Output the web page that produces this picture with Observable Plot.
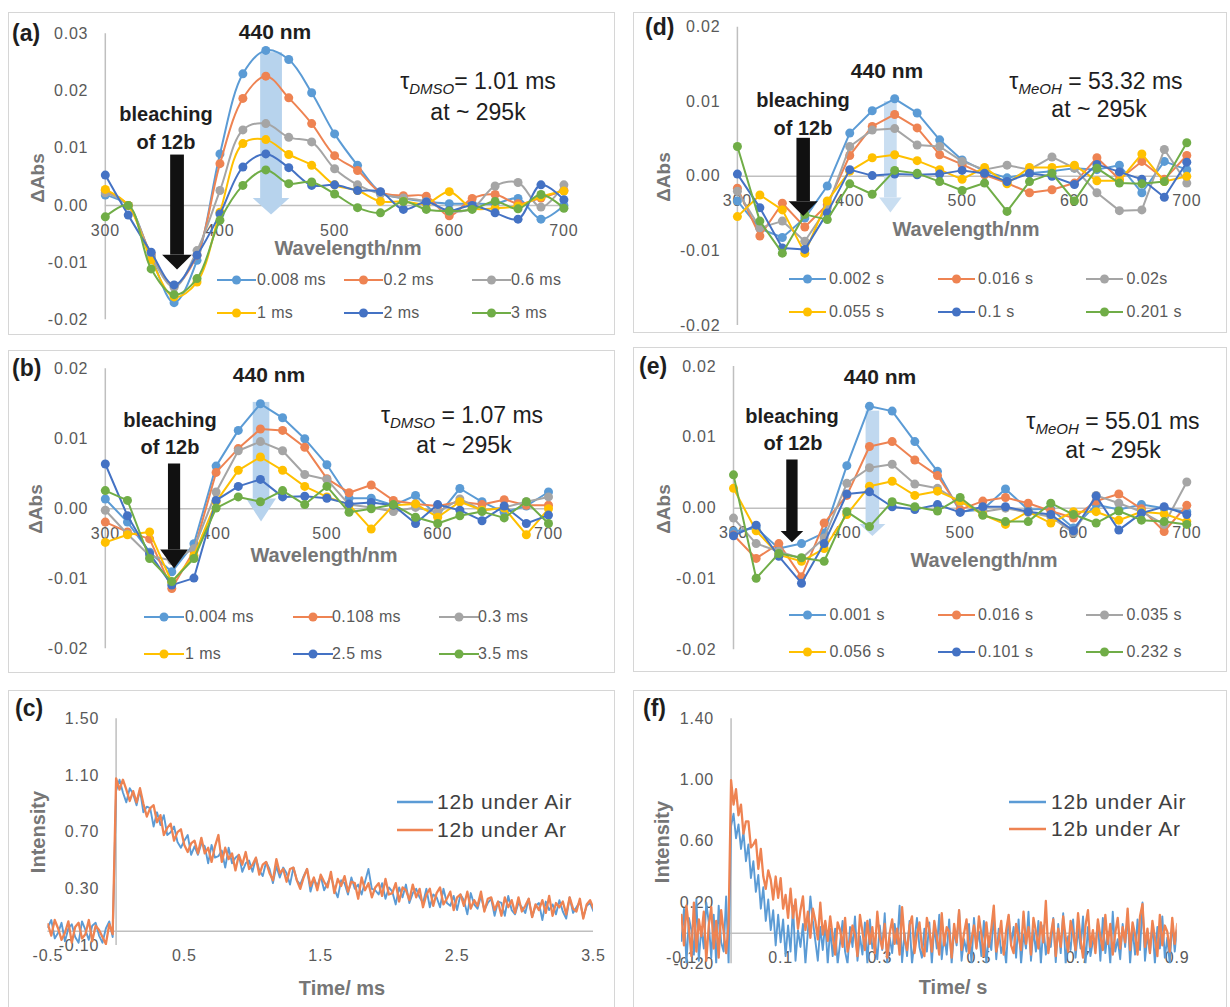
<!DOCTYPE html>
<html><head><meta charset="utf-8">
<script src="https://cdn.jsdelivr.net/npm/d3@7"></script>
<script src="https://cdn.jsdelivr.net/npm/@observablehq/plot@0.6"></script>
<style>
body{margin:0;background:#fff;font-family:"Liberation Sans",Arial,sans-serif;}
#root{position:relative;width:1230px;height:1007px;overflow:hidden;background:#fff}
.panel{position:absolute;border:1.5px solid #d6d6d6;box-sizing:border-box}
.lbl{position:absolute;white-space:nowrap;line-height:1}
.lbl sub{font-size:15px;font-style:italic;vertical-align:-5px;letter-spacing:0}
</style></head>
<body><div id="root"></div>
<script>
// ---------- data ----------
const wl = [300,320,340,360,380,400,420,440,460,480,500,520,540,560,580,600,620,640,660,680,700];
const colors = ["#5B9BD5","#EE8352","#A5A5A5","#FFC000","#4472C4","#70AD47"];
const specXTicks = [300,400,500,600,700];

const aLabels = ["0.008 ms","0.2 ms","0.6 ms","1 ms","2 ms","3 ms"];
const aValues = [
  [0.0018,0.0000,-0.0090,-0.0170,-0.0096,0.0090,0.0230,0.0271,0.0255,0.0197,0.0125,0.0070,0.0023,0.0012,0.0007,0.0003,0.0003,0.0003,0.0012,-0.0024,0.0000],
  [0.0026,0.0000,-0.0085,-0.0140,-0.0087,0.0073,0.0187,0.0226,0.0188,0.0143,0.0087,0.0061,0.0023,0.0017,0.0016,-0.0018,0.0012,0.0019,0.0003,0.0013,0.0026],
  [0.0022,0.0000,-0.0088,-0.0143,-0.0079,0.0026,0.0132,0.0143,0.0119,0.0111,0.0064,0.0036,0.0020,0.0013,0.0007,-0.0010,-0.0005,0.0034,0.0040,-0.0003,0.0036],
  [0.0028,0.0000,-0.0095,-0.0160,-0.0134,-0.0012,0.0108,0.0115,0.0089,0.0070,0.0036,0.0026,0.0007,0.0007,0.0003,0.0024,-0.0005,-0.0005,-0.0001,0.0015,0.0025],
  [0.0053,-0.0017,-0.0082,-0.0139,-0.0087,-0.0015,0.0067,0.0090,0.0066,0.0035,0.0036,0.0026,0.0024,-0.0007,0.0006,-0.0009,0.0000,-0.0013,-0.0024,0.0036,0.0010],
  [-0.0020,0.0000,-0.0111,-0.0156,-0.0128,-0.0026,0.0035,0.0062,0.0038,0.0041,0.0020,-0.0004,-0.0013,0.0007,-0.0007,-0.0010,-0.0007,0.0007,-0.0006,0.0019,-0.0005]
];
const aYTicks = [0.03,0.02,0.01,0,-0.01,-0.02];

const bLabels = ["0.004 ms","0.108 ms","0.3 ms","1 ms","2.5 ms","3.5 ms"];
const bValues = [
  [0.0014,-0.0019,-0.0062,-0.0090,-0.0050,0.0061,0.0112,0.0150,0.0130,0.0100,0.0063,0.0015,0.0015,0.0005,0.0019,-0.0010,0.0029,0.0010,-0.0005,0.0004,0.0024],
  [-0.0019,-0.0033,-0.0043,-0.0114,-0.0060,0.0052,0.0086,0.0114,0.0112,0.0088,0.0043,0.0023,0.0034,0.0012,0.0007,0.0004,0.0010,0.0006,0.0013,0.0005,0.0005],
  [-0.0002,-0.0036,-0.0067,-0.0074,-0.0057,0.0024,0.0083,0.0096,0.0083,0.0049,0.0042,0.0006,0.0002,-0.0004,0.0002,-0.0005,0.0014,-0.0002,0.0002,0.0010,0.0017],
  [-0.0048,-0.0037,-0.0033,-0.0105,-0.0067,0.0010,0.0055,0.0074,0.0055,0.0032,0.0017,0.0006,-0.0029,0.0005,0.0007,-0.0012,0.0010,-0.0002,0.0001,-0.0037,0.0000],
  [0.0064,-0.0010,-0.0064,-0.0109,-0.0099,0.0012,0.0032,0.0042,0.0017,0.0018,0.0015,0.0007,0.0009,0.0005,-0.0021,0.0006,-0.0002,-0.0017,0.0004,-0.0021,-0.0009],
  [0.0026,0.0012,-0.0071,-0.0104,-0.0071,0.0001,0.0017,0.0010,0.0026,0.0006,0.0032,-0.0005,0.0000,0.0006,-0.0012,-0.0021,-0.0010,-0.0004,-0.0013,0.0010,-0.0021]
];
const bdeYTicks = [0.02,0.01,0,-0.01,-0.02];

const dLabels = ["0.002 s","0.016 s","0.02s","0.055 s","0.1 s","0.201 s"];
const dValues = [
  [-0.0033,-0.0070,-0.0082,-0.0056,-0.0013,0.0058,0.0088,0.0104,0.0085,0.0049,0.0022,0.0007,-0.0002,0.0004,0.0007,0.0011,0.0009,0.0015,-0.0022,0.0020,0.0009],
  [-0.0016,-0.0080,-0.0036,-0.0068,-0.0038,0.0028,0.0067,0.0083,0.0065,0.0029,0.0016,0.0002,-0.0009,-0.0022,-0.0018,-0.0009,0.0025,-0.0004,0.0020,-0.0004,0.0028],
  [-0.0020,-0.0069,-0.0060,-0.0087,-0.0042,0.0040,0.0062,0.0064,0.0042,0.0040,0.0020,0.0009,0.0015,0.0009,0.0026,0.0011,-0.0022,-0.0046,-0.0045,0.0036,-0.0009],
  [-0.0054,-0.0025,-0.0045,-0.0103,-0.0033,0.0007,0.0025,0.0029,0.0021,0.0009,-0.0004,0.0012,-0.0010,0.0012,0.0012,0.0015,-0.0006,-0.0006,0.0030,-0.0007,0.0000],
  [0.0003,-0.0042,-0.0096,-0.0098,-0.0049,0.0009,0.0001,0.0003,0.0002,0.0003,0.0008,0.0004,-0.0007,0.0004,0.0000,-0.0011,0.0016,0.0006,-0.0004,-0.0028,0.0019],
  [0.0040,-0.0060,-0.0103,-0.0051,-0.0058,-0.0010,-0.0024,0.0008,0.0004,-0.0007,-0.0019,-0.0009,-0.0047,-0.0007,0.0004,-0.0033,0.0011,-0.0009,-0.0010,-0.0007,0.0045]
];

const eLabels = ["0.001 s","0.016 s","0.035 s","0.056 s","0.101 s","0.232 s"];
const eValues = [
  [-0.0033,-0.0028,-0.0057,-0.0050,-0.0035,0.0060,0.0144,0.0137,0.0094,0.0052,-0.0005,-0.0002,0.0027,-0.0002,-0.0001,-0.0028,0.0005,-0.0002,0.0005,0.0000,-0.0005],
  [-0.0038,-0.0071,-0.0050,-0.0097,-0.0021,0.0018,0.0087,0.0094,0.0068,0.0046,-0.0002,0.0010,0.0015,0.0007,-0.0004,-0.0014,0.0010,0.0020,-0.0001,-0.0033,0.0004],
  [-0.0014,-0.0050,-0.0061,-0.0071,-0.0042,0.0035,0.0057,0.0062,0.0034,0.0028,0.0009,-0.0005,0.0000,-0.0006,-0.0012,-0.0035,0.0018,0.0007,-0.0005,-0.0023,0.0037],
  [0.0028,-0.0032,-0.0066,-0.0075,-0.0057,-0.0009,0.0031,0.0038,0.0018,0.0024,0.0010,-0.0009,-0.0023,-0.0005,-0.0021,-0.0005,-0.0005,-0.0017,-0.0005,-0.0008,-0.0019],
  [-0.0039,-0.0024,-0.0068,-0.0106,-0.0050,0.0020,0.0023,0.0002,-0.0002,0.0005,-0.0006,0.0002,0.0002,-0.0005,-0.0009,-0.0032,0.0017,-0.0031,-0.0007,0.0002,-0.0009],
  [0.0047,-0.0099,-0.0064,-0.0070,-0.0075,-0.0005,-0.0026,0.0009,0.0002,-0.0004,0.0015,-0.0010,-0.0019,-0.0019,0.0007,-0.0009,-0.0021,-0.0004,-0.0017,-0.0019,-0.0023]
];

// (c) decay, samples every 0.025 ms from -0.5 ms
const cTimeStart = -0.5, cTimeStep = 0.025;
const cXTicks = [-0.5,0.5,1.5,2.5,3.5];
const cYTicks = [-0.1,0.3,0.7,1.1,1.5];
const cAir = [
  0.03,0.08,-0.05,-0.01,0.06,-0.07,0.02,0.05,-0.04,-0.08,0.07,0.01,-0.06,0.04,0.06,-0.03,-0.08,0.02,0.07,-0.04,
  0.99,1.07,0.98,0.91, 1.01,0.97,0.89,1.00, 0.84,0.88,0.87,0.74, 0.84,0.75,0.82,0.68, 0.70,0.74,0.63,0.59,
  0.64,0.68,0.54,0.60, 0.54,0.62,0.60,0.48, 0.61,0.52,0.53,0.57, 0.45,0.59,0.48,0.52, 0.54,0.42,0.48,0.50,
  0.42,0.52,0.43,0.39, 0.49,0.44,0.34,0.46, 0.38,0.45,0.41,0.33, 0.45,0.36,0.33,0.39, 0.44,0.28,0.37,0.32,
  0.39,0.29,0.34,0.39, 0.30,0.24,0.36,0.34, 0.26,0.38,0.30,0.33, 0.26,0.35,0.44,0.30, 0.29,0.26,0.34,0.23,
  0.31,0.28,0.19,0.31, 0.24,0.33,0.20,0.27, 0.30,0.24,0.20,0.30, 0.17,0.26,0.24,0.17, 0.30,0.20,0.18,0.25,
  0.15,0.26,0.22,0.12, 0.27,0.19,0.16,0.25, 0.15,0.20,0.23,0.11, 0.21,0.20,0.11,0.25, 0.15,0.12,0.20,0.17,
  0.13,0.23,0.10,0.18, 0.20,0.08,0.21,0.15, 0.19,0.12,0.22,0.14, 0.09,0.24,0.13,0.17, 0.21,0.10,0.18,0.20,
  0.14
];
const cAr = [
  0.05,-0.03,0.08,0.02,-0.06,-0.01,0.07,-0.08,0.03,0.06,-0.05,-0.02,0.08,-0.07,0.04,0.01,-0.04,-0.09,0.05,-0.02,
  1.08,1.00,1.07,1.00, 0.92,0.99,0.91,1.01, 0.90,0.81,0.87,0.89, 0.77,0.82,0.68,0.73, 0.76,0.64,0.70,0.72,
  0.61,0.56,0.62,0.64, 0.55,0.66,0.55,0.59, 0.49,0.60,0.68,0.49, 0.59,0.51,0.55,0.43, 0.54,0.47,0.56,0.44,
  0.47,0.52,0.40,0.47, 0.49,0.41,0.36,0.51, 0.41,0.44,0.35,0.44, 0.45,0.36,0.30,0.38, 0.44,0.32,0.38,0.29,
  0.40,0.35,0.31,0.42, 0.27,0.37,0.32,0.39, 0.28,0.35,0.34,0.23, 0.38,0.29,0.34,0.24, 0.31,0.34,0.25,0.37,
  0.26,0.27,0.34,0.21, 0.31,0.29,0.22,0.33, 0.24,0.30,0.17,0.26, 0.30,0.18,0.27,0.31, 0.19,0.23,0.28,0.15,
  0.24,0.26,0.18,0.28, 0.16,0.22,0.18,0.28, 0.14,0.23,0.24,0.15, 0.21,0.11,0.24,0.17, 0.22,0.13,0.24,0.14,
  0.18,0.23,0.10,0.19, 0.15,0.22,0.13,0.25, 0.11,0.20,0.17,0.21, 0.12,0.24,0.16,0.14, 0.23,0.09,0.19,0.22,
  0.16
];

// (f) decay, samples every 0.005 s from -0.1 s
const fTimeStart = -0.1, fTimeStep = 0.005;
const fXTicks = [-0.1,0.1,0.3,0.5,0.7,0.9];
const fYTicks = [-0.2,0.2,0.6,1.0,1.4];
const fAir = [
  -0.05,0.16,-0.20,0.10,0.02,-0.14,0.22,-0.18,0.04,-0.10,0.20,0.07,-0.16,0.12,-0.20,0.18,-0.06,-0.12,0.24,-0.20,
  0.70,0.78,0.62,0.71,0.55,0.66,0.47,0.58,0.36,0.47,0.27,0.38,0.16,0.30,0.08,0.22,0.02,0.15,-0.08,0.12,
  -0.06,0.09,-0.15,0.05,-0.12,0.18,-0.18,0.02,-0.09,0.06,-0.20,0.01,0.24,0.08,-0.05,-0.18,0.04,-0.11,0.07,-0.20,0.03,
  -0.15,0.03,-0.20,-0.06,0.08,-0.12,-0.20,0.04,-0.09,0.11,-0.18,-0.02,-0.14,0.07,-0.20,0.09,-0.10,-0.04,-0.17,0.05,
  -0.11,0.13,-0.20,-0.03,-0.13,0.06,-0.07,0.18,-0.19,0.00,-0.15,0.08,-0.20,-0.05,0.10,-0.09,-0.16,0.03,-0.12,0.07,
  -0.20,0.05,-0.10,0.12,-0.17,-0.01,-0.14,0.09,-0.20,0.02,-0.08,0.15,-0.18,-0.04,-0.12,0.06,-0.20,0.10,-0.09,0.01,
  -0.15,0.08,-0.20,-0.02,-0.11,0.12,-0.17,0.03,-0.13,-0.06,-0.20,0.11,-0.07,0.04,-0.16,0.09,-0.20,-0.01,-0.10,0.14,
  -0.18,0.02,-0.12,0.08,-0.20,0.05,-0.14,-0.03,-0.09,0.10,-0.19,0.06,-0.13,0.13,-0.20,-0.02,-0.11,0.09,-0.16,0.03,
  -0.10,0.11,-0.20,0.04,-0.15,-0.05,-0.08,0.07,-0.18,0.10,-0.13,0.01,-0.20,0.14,-0.12,-0.04,-0.17,0.06,-0.09,0.12,
  -0.20,0.03,-0.14,0.09,-0.11,0.20,-0.18,-0.01,-0.13,0.06,-0.20,0.04,-0.10,0.11,-0.16,-0.03,-0.20,0.07,-0.12,0.02
];
const fAr = [
  0.12,-0.08,0.18,0.03,-0.15,0.20,-0.12,0.09,-0.02,0.14,-0.18,0.05,0.17,-0.10,0.08,-0.16,0.15,0.01,-0.13,0.06,
  1.00,0.84,0.94,0.77,0.84,0.65,0.73,0.73,0.56,0.58,0.61,0.42,0.55,0.37,0.29,0.41,0.35,0.22,0.37,0.23,
  0.36,0.16,0.25,0.10,0.29,0.10,0.22,0.03,0.15,0.24,0.02,0.14,-0.03,0.16,0.08,-0.04,0.20,-0.01,0.08,-0.05,0.11,
  -0.02,-0.14,0.07,0.02,-0.09,0.10,-0.12,-0.05,0.05,-0.01,-0.15,0.12,0.01,-0.11,0.08,-0.07,0.04,-0.13,0.14,-0.03,
  -0.10,0.06,-0.16,0.00,0.09,-0.07,0.03,-0.14,0.17,-0.04,-0.11,0.05,0.11,-0.13,-0.01,0.07,-0.09,-0.15,0.10,0.02,
  -0.12,0.08,-0.02,-0.14,0.13,-0.08,0.04,0.01,-0.16,0.06,-0.06,0.15,-0.11,0.00,0.09,-0.13,-0.04,0.05,-0.10,0.11,
  -0.01,-0.15,0.07,-0.09,0.03,0.18,-0.12,-0.04,0.08,-0.14,0.02,0.12,-0.08,-0.13,0.06,-0.02,-0.11,0.14,-0.07,0.04,
  -0.14,0.10,0.01,-0.10,0.07,-0.06,0.21,-0.13,-0.01,0.09,-0.15,0.03,-0.09,0.11,-0.03,-0.12,0.08,0.00,-0.11,0.13,
  -0.04,-0.16,0.05,0.15,-0.09,0.02,-0.13,0.09,-0.02,-0.11,0.12,-0.07,0.06,-0.14,0.00,0.10,-0.10,0.04,-0.06,0.16,
  -0.11,0.07,-0.01,-0.14,0.11,0.19,-0.09,0.03,-0.13,0.08,-0.03,-0.15,0.12,-0.08,0.05,0.01,-0.12,0.10,-0.07,0.06
];
const decayLabels = ["12b under Air","12b under Ar"];

// ---------- drawing ----------
const root = document.getElementById("root");
const AX = "#bfbfbf", TICK = "#595959", TITLE = "#767676", INK = "#1e1e1e";
const FONT = "'Liberation Sans', Arial, sans-serif";
const SVGNS = "http://www.w3.org/2000/svg";

function box(b) {
  const d = document.createElement("div");
  d.className = "panel";
  Object.assign(d.style, {left: b.L + "px", top: b.T + "px", width: (b.R - b.L) + "px", height: (b.B - b.T) + "px"});
  root.appendChild(d);
}
function label(html, x, y, css, anchor) {
  const d = document.createElement("div");
  d.className = "lbl";
  d.innerHTML = html;
  d.style.left = x + "px"; d.style.top = y + "px";
  d.style.transform = anchor === "left" ? "translate(0,-50%)" : anchor === "rot" ? "translate(-50%,-50%) rotate(-90deg)" : "translate(-50%,-50%)";
  Object.assign(d.style, css || {});
  root.appendChild(d);
}
function swatch(x, y, w, color, withDot, sw) {
  const s = document.createElementNS(SVGNS, "svg");
  s.setAttribute("width", w); s.setAttribute("height", 14);
  s.style.position = "absolute"; s.style.left = x + "px"; s.style.top = (y - 7) + "px";
  s.innerHTML = `<line x1="0" y1="7" x2="${w}" y2="7" stroke="${color}" stroke-width="${sw}"/>` +
    (withDot ? `<circle cx="${w/2}" cy="7" r="4.5" fill="${color}"/>` : "");
  root.appendChild(s);
}
function makePlot(b, f, xDomain, yDomain, marks) {
  const svg = Plot.plot({
    width: b.R - b.L, height: b.B - b.T,
    marginLeft: f.x0 - b.L, marginRight: b.R - f.x1,
    marginTop: f.y0 - b.T, marginBottom: b.B - f.y1,
    x: {domain: xDomain, axis: null}, y: {domain: yDomain, axis: null},
    style: {fontFamily: FONT, fontSize: "16px", background: "transparent", overflow: "visible", letterSpacing: "0.8px"},
    marks
  });
  svg.style.position = "absolute"; svg.style.left = b.L + "px"; svg.style.top = b.T + "px";
  root.appendChild(svg);
}
function arrowMarks(a, fill) {
  const head = [{x: a.x - a.head / 2, y: a.base}, {x: a.x, y: a.tip}, {x: a.x + a.head / 2, y: a.base}];
  return [
    Plot.rect([a], {x1: d => d.x - d.shaft / 2, x2: d => d.x + d.shaft / 2, y1: d => d.base, y2: d => d.top, fill}),
    Plot.areaY(head, {x: "x", y1: a.base, y2: "y", fill})
  ];
}
const tickText = {fill: TICK, fontSize: 16};
function spectrumPanel(p) {
  box(p.box);
  const marks = [
    Plot.ruleY([0], {stroke: AX, strokeWidth: 1.5}),
    Plot.ruleX([300], {y1: p.yDomain[0], y2: p.yDomain[1], stroke: AX, strokeWidth: 1.5}),
    Plot.text(p.yTicks, {x: 300, y: d => d, text: d => d.toFixed(2), textAnchor: "end", dx: -17, ...tickText}),
    Plot.text(specXTicks, {x: d => d, y: 0, text: d => String(d), dy: 25, ...tickText}),
    ...arrowMarks(p.blue, p.blueFill)
  ];
  p.values.forEach((vals, si) => {
    const rows = vals.map((v, i) => ({x: wl[i], y: v}));
    marks.push(Plot.line(rows, {x: "x", y: "y", stroke: colors[si], strokeWidth: 2, curve: p.curve}));
    marks.push(Plot.dot(rows, {x: "x", y: "y", fill: colors[si], r: 4.5}));
  });
  marks.push(...arrowMarks(p.black, "#111"));
  makePlot(p.box, p.frame, [300, 700], p.yDomain, marks);

  const L = p.text;
  label(L.tag, L.tagPos[0], L.tagPos[1], {font: "bold 23px " + FONT, color: INK}, "left");
  label("440 nm", L.nm[0], L.nm[1], {font: "bold 21px " + FONT, color: INK});
  label("bleaching", L.bl1[0], L.bl1[1], {font: "bold 20px " + FONT, color: INK});
  label("of 12b", L.bl2[0], L.bl2[1], {font: "bold 20px " + FONT, color: INK});
  label(L.tau, L.tau1[0], L.tau1[1], {font: "23px " + FONT, color: INK});
  label("at ~ 295k", L.tau2[0], L.tau2[1], {font: "23px " + FONT, color: INK});
  label("ΔAbs", L.yl[0], L.yl[1], {font: "bold 19px " + FONT, color: TITLE}, "rot");
  label("Wavelength/nm", L.xl[0], L.xl[1], {font: "bold 20px " + FONT, color: TITLE});
  p.labels.forEach((lab, i) => {
    const c = i % 3, r = Math.floor(i / 3);
    swatch(L.leg.sw[c], L.leg.rows[r], L.leg.w, colors[i], true, 2);
    label(lab, L.leg.tx[c], L.leg.rows[r], {font: "16px " + FONT, color: TICK, letterSpacing: "0.4px"}, "left");
  });
}
function decayPanel(p) {
  box(p.box);
  const rowsOf = arr => arr.map((v, i) => ({t: p.t0 + i * p.dt, v}));
  const marks = [
    Plot.ruleY([0], {stroke: AX, strokeWidth: 1.5}),
    Plot.ruleX([0], {y1: p.yDomain[0], y2: p.yDomain[1], stroke: AX, strokeWidth: 1.5}),
    Plot.text(p.yTicks, {x: 0, y: d => d, text: d => d.toFixed(2), textAnchor: "end", dx: -17, ...tickText}),
    Plot.text(p.xTicks, {x: d => d, y: p.yDomain[0], text: d => d.toFixed(1), dy: p.xDy, ...tickText}),
    Plot.line(rowsOf(p.air), {x: "t", y: "v", stroke: "#5B9BD5", strokeWidth: 1.9, clip: true}),
    Plot.line(rowsOf(p.ar), {x: "t", y: "v", stroke: "#EE8352", strokeWidth: 2.3, clip: true})
  ];
  makePlot(p.box, p.frame, p.xDomain, p.yDomain, marks);
  const L = p.text;
  label(L.tag, L.tagPos[0], L.tagPos[1], {font: "bold 23px " + FONT, color: INK}, "left");
  label("Intensity", L.yl[0], L.yl[1], {font: "bold 20px " + FONT, color: TITLE}, "rot");
  label(L.xt, L.xl[0], L.xl[1], {font: "bold 20px " + FONT, color: TITLE});
  ["#5B9BD5", "#EE8352"].forEach((c, i) => {
    swatch(L.leg.sw, L.leg.rows[i], L.leg.w, c, false, 2.5);
    label(decayLabels[i], L.leg.tx, L.leg.rows[i], {font: "21px " + FONT, color: "#404040", letterSpacing: "0.8px"}, "left");
  });
}

spectrumPanel({
  box: {L: 8, T: 12, R: 615, B: 335}, frame: {x0: 104.8, x1: 563.4, y0: 33.3, y1: 319.3},
  yDomain: [-0.02, 0.03], yTicks: aYTicks, values: aValues, labels: aLabels, curve: "catmull-rom",
  blue: {x: 445, top: 0.0267, base: 0.0012, tip: -0.0017, shaft: 19, head: 32}, blueFill: "#B7D3ED",
  black: {x: 363, top: 0.0088, base: -0.0087, tip: -0.0113, shaft: 12, head: 26},
  text: {tag: "(a)", tagPos: [12, 33], nm: [275, 32], bl1: [166, 114], bl2: [166, 142],
    tau: "τ<sub>DMSO</sub>= 1.01 ms", tau1: [478, 82], tau2: [478, 112], yl: [38, 178], xl: [348, 248],
    leg: {sw: [217, 344, 472], tx: [257, 383.5, 511], w: 39, rows: [280, 313]}}
});
spectrumPanel({
  box: {L: 8, T: 350, R: 615, B: 673}, frame: {x0: 104.8, x1: 548, y0: 368.3, y1: 648.3},
  yDomain: [-0.02, 0.02], yTicks: bdeYTicks, values: bValues, labels: bLabels, curve: "linear",
  blue: {x: 441, top: 0.0152, base: 0.0014, tip: -0.0019, shaft: 15, head: 27}, blueFill: "#B7D3ED",
  black: {x: 362.5, top: 0.0064, base: -0.0059, tip: -0.0086, shaft: 11, head: 25},
  text: {tag: "(b)", tagPos: [12, 368], nm: [269, 375], bl1: [170, 420], bl2: [170, 447],
    tau: "τ<sub>DMSO</sub> = 1.07 ms", tau1: [462, 416], tau2: [464, 445], yl: [36, 509], xl: [324, 555],
    leg: {sw: [144, 292.6, 439], tx: [185, 332, 478], w: 40, rows: [617, 654]}}
});
spectrumPanel({
  box: {L: 633, T: 12, R: 1227, B: 333}, frame: {x0: 736.9, x1: 1186.3, y0: 26.7, y1: 325},
  yDomain: [-0.02, 0.02], yTicks: bdeYTicks, values: dValues, labels: dLabels, curve: "linear",
  blue: {x: 436.6, top: 0.0100, base: -0.0029, tip: -0.0049, shaft: 11.3, head: 20}, blueFill: "#C9DEF1",
  black: {x: 359, top: 0.0051, base: -0.0034, tip: -0.0054, shaft: 12, head: 26},
  text: {tag: "(d)", tagPos: [645, 27], nm: [887, 71], bl1: [803, 100], bl2: [803, 128],
    tau: "τ<sub>MeOH</sub> = 53.32 ms", tau1: [1096, 82], tau2: [1099, 109], yl: [664, 177], xl: [966, 229],
    leg: {sw: [789, 937.5, 1086], tx: [829, 978, 1126.5], w: 37, rows: [279, 312]}}
});
spectrumPanel({
  box: {L: 633, T: 347, R: 1227, B: 672}, frame: {x0: 733, x1: 1186.3, y0: 366, y1: 649.3},
  yDomain: [-0.02, 0.02], yTicks: bdeYTicks, values: eValues, labels: eLabels, curve: "linear",
  blue: {x: 423, top: 0.0137, base: -0.0023, tip: -0.0040, shaft: 12, head: 23}, blueFill: "#C0D8EF",
  black: {x: 352, top: 0.0068, base: -0.0033, tip: -0.0049, shaft: 10, head: 20},
  text: {tag: "(e)", tagPos: [639, 366], nm: [880, 377], bl1: [792, 416], bl2: [793, 443],
    tau: "τ<sub>MeOH</sub> = 55.01 ms", tau1: [1113, 422], tau2: [1113, 450], yl: [664, 509], xl: [984, 560],
    leg: {sw: [789, 937.5, 1086], tx: [829.5, 978, 1126.5], w: 37, rows: [615, 652]}}
});
decayPanel({
  box: {L: 8, T: 690, R: 615, B: 1012}, frame: {x0: 47.4, x1: 593, y0: 718.3, y1: 945},
  xDomain: [-0.5, 3.5], yDomain: [-0.1, 1.5], xTicks: cXTicks, yTicks: cYTicks, xDy: 10,
  t0: cTimeStart, dt: cTimeStep, air: cAir, ar: cAr,
  text: {tag: "(c)", tagPos: [15, 708], yl: [38, 832], xl: [342, 988], xt: "Time/ ms",
    leg: {sw: 397, tx: 437, w: 36, rows: [802, 830]}}
});
decayPanel({
  box: {L: 633, T: 690, R: 1227, B: 1012}, frame: {x0: 681, x1: 1176.7, y0: 718.3, y1: 963.3},
  xDomain: [-0.1, 0.9], yDomain: [-0.2, 1.4], xTicks: fXTicks, yTicks: fYTicks, xDy: -6,
  t0: fTimeStart, dt: fTimeStep, air: fAir, ar: fAr,
  text: {tag: "(f)", tagPos: [643, 708], yl: [662, 842], xl: [953, 987], xt: "Time/ s",
    leg: {sw: 1009, tx: 1051, w: 37, rows: [802, 829]}}
});
</script></body></html>
